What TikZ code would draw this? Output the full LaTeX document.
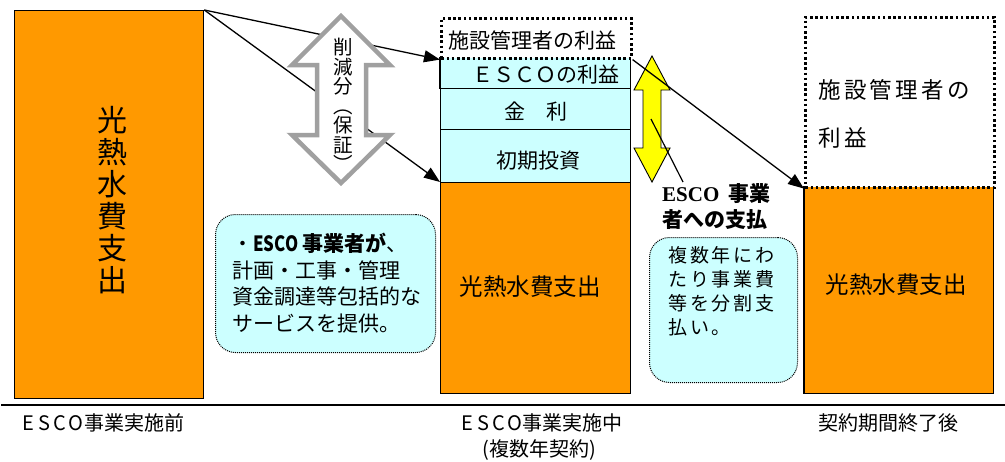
\documentclass[tikz,border=0pt]{standalone}
\usepackage{fontspec}
\usepackage{graphicx}
\setmainfont{Noto Sans CJK JP}
\newfontfamily\serifb{Liberation Serif}
\usetikzlibrary{arrows.meta}
\definecolor{orng}{HTML}{FF9900}
\definecolor{lcyan}{HTML}{CCFFFF}
\definecolor{arrgray}{HTML}{A0A0A0}
\definecolor{yel}{HTML}{FFFF00}
\newcommand\escoletters{\makebox[16pt]{E}\makebox[16pt]{S}\makebox[16pt]{C}\makebox[16pt]{O}}
\tikzset{
  barbox/.style={draw=black, line width=1.3pt, fill=orng, inner sep=0pt, anchor=north west},
  fillbox/.style={draw=none, inner sep=0pt, anchor=north west},
  cybox/.style={draw=black, line width=1.3pt, fill=lcyan, inner sep=0pt, anchor=north west, minimum width=190pt},
  dotbox/.style={draw=black, line width=2.6pt, dash pattern=on 2.6pt off 2.6pt, inner sep=0pt, anchor=north west},
  bubble/.style={draw=black, line width=1pt, dash pattern=on 1pt off 1pt, fill=lcyan, rounded corners=20pt, inner sep=0pt, anchor=north west},
  conn/.style={line width=1.3pt, -{Triangle[length=16pt,width=12pt]}},
  side/.style={line width=1.3pt},
  tmid/.style={inner sep=0pt, font=\fontsize{21}{24}\selectfont},
  tbig/.style={inner sep=0pt, font=\fontsize{23.5}{26}\selectfont},
  tbot/.style={inner sep=0pt, font=\fontsize{20}{22}\selectfont},
}
\begin{document}
\begin{tikzpicture}[x=1pt,y=-1pt]
\useasboundingbox (0,0) rectangle (1005,461);

% base line
\coordinate (bl) at (1,405);
\coordinate (br) at (1005,405);
\draw[line width=1.4pt] (bl) -- (br);

% left column
\node[barbox, minimum width=189pt, minimum height=388pt] (before) at (14,10) {};
\node[inner sep=0pt, align=center, font=\fontsize{30}{32}\selectfont] (beforetxt) at (112,200) {光\\熱\\水\\費\\支\\出};

% middle column
\node[fillbox, fill=lcyan, minimum width=190pt, minimum height=31pt] (esco) at (440,57) {};
\draw[side] (esco.north west) -- (esco.south west) -- (esco.south east) -- (esco.north east);
\node[cybox, minimum height=41pt] (kinri) at (440,88) {};
\node[cybox, minimum height=53pt] (shoki) at (440,129) {};
\node[barbox, minimum width=190pt, minimum height=211pt] (during) at (440,182) {};
\node[dotbox, fill=white, minimum width=190pt, minimum height=40pt] (mgr) at (440,17) {};

\node[tmid] (mgrtxt) at (532,40) {施設管理者の利益};
\node[tmid] (escotxt) at (546,75) {ＥＳＣＯの利益};
\node[tmid] (kinritxt) at (536,112) {金　利};
\node[tmid] (shokitxt) at (538,161) {初期投資};
\node[tbig] (duringtxt) at (530,287) {光熱水費支出};

% right column
\node[fillbox, fill=orng, minimum width=189pt, minimum height=207pt] (after) at (804,186) {};
\draw[side] (after.north west) -- (after.south west) -- (after.south east) -- (after.north east);
\node[dotbox, fill=white, minimum width=189pt, minimum height=170pt] (rmgr) at (804,16) {};
\node[inner sep=0pt, anchor=west, align=left, font=\fontsize{22.5}{48}\selectfont\addfontfeature{LetterSpace=15}] (rmgrtxt) at (818,114) {施設管理者の\\利益};
\node[tbig] (aftertxt) at (896,285) {光熱水費支出};

% connectors from the left bar
\draw[conn] (before.north east) -- (mgr.south west);
\draw[conn] (before.north east) -- (during.north west);

% grey double arrow (drawn over the connectors)
\draw[draw=arrgray, fill=white, line width=4.5pt, line join=miter]
  (341,16) -- (390,65) -- (366,65) -- (366,135) -- (390,135) -- (341,183)
  -- (292,135) -- (317,135) -- (317,65) -- (292,65) -- cycle;
\node[inner sep=0pt, align=center, font=\fontsize{19.5}{19.5}\selectfont] (cuttxt) at (343,105) {削\\減\\分\\︵\\保\\証\\︶};

% yellow double arrow
\draw[draw=black, fill=yel, line width=0.9pt, line join=miter]
  (652,56) -- (670,90) -- (661,90) -- (661,148) -- (670,148) -- (652,182)
  -- (634,148) -- (643,148) -- (643,90) -- (634,90) -- cycle;

\draw[conn] (mgr.south east) -- (rmgr.south west);

% payment label and its callout
\node[inner sep=0pt, anchor=west, align=left, font=\fontsize{21}{26}\selectfont\bfseries] (paylbl) at (662,207) {{\serifb\bfseries ESCO}\hspace{9pt}事業\\者への支払};
\coordinate (callfrom) at (683,182);
\coordinate (callto) at (651,119);
\draw[line width=1.2pt] (callfrom) -- (callto);

% bubbles
\node[bubble, minimum width=220pt, minimum height=138pt] (bubL) at (215,214) {};
\node[inner sep=0pt, anchor=west, align=left, font=\fontsize{21}{26.7}\selectfont] (bubLtxt) at (232,283) {・\scalebox{0.8}[1]{\textbf{ESCO}} \textbf{事業者が}、\\計画・工事・管理\\資金調達等包括的な\\サービスを提供。};
\node[bubble, minimum width=148pt, minimum height=145pt] (bubR) at (649,237) {};
\node[inner sep=0pt, anchor=west, align=left, font=\fontsize{19}{24}\selectfont\addfontfeature{LetterSpace=15}] (bubRtxt) at (668,291) {複数年にわ\\たり事業費\\等を分割支\\払い。};

% bottom labels
\node[tbot, anchor=west] (lbl1) at (20,423) {\escoletters 事業実施前};
\node[tbot] (lbl2) at (541,423) {\escoletters 事業実施中};
\node[tbot] (lbl2b) at (539,450) {(複数年契約)};
\node[tbot] (lbl3) at (888,423) {契約期間終了後};
\end{tikzpicture}
\end{document}
